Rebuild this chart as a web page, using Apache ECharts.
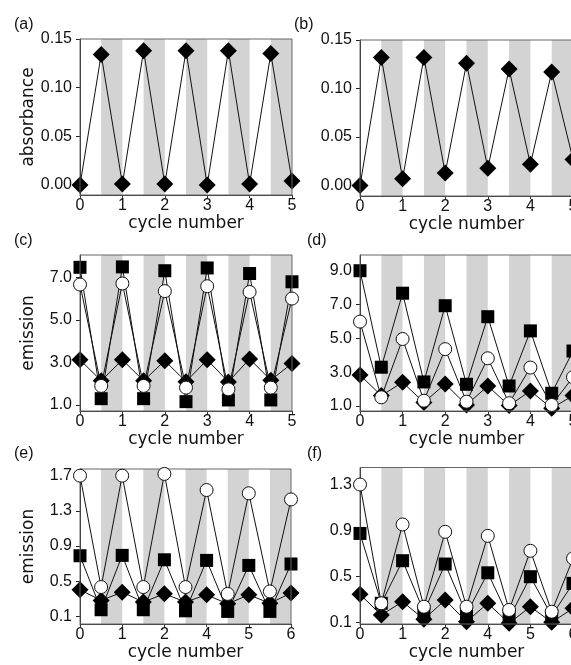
<!DOCTYPE html>
<html><head><meta charset="utf-8">
<script src="https://cdn.jsdelivr.net/npm/echarts@6/dist/echarts.min.js"></script>
<style>html,body{margin:0;padding:0;background:#fff;overflow:hidden}#c{width:571px;height:665px}</style>
</head><body><div id="c"></div>
<script>
// x positions (cycle steps) shared by all panels
const cyclePos = [0, 0.5, 1, 1.5, 2, 2.5, 3, 3.5, 4, 4.5, 5];
const xLabelsAD = ['0', '1', '2', '3', '4', '5'];
const xLabelsEF = ['0', '1', '2', '4', '5', '6'];
// shaded (dark) phases
const bandStarts = [0.5, 1.5, 2.5, 3.5, 4.5];
const bandEnds = [1, 2, 3, 4, 5];

// y tick values
const yTicksAB = [0.00, 0.05, 0.10, 0.15];
const yTicksC = [1.0, 3.0, 5.0, 7.0];
const yTicksD = [1.0, 3.0, 5.0, 7.0, 9.0];
const yTicksE = [0.1, 0.5, 0.9, 1.3, 1.7];
const yTicksF = [0.1, 0.5, 0.9, 1.3];

// panel (a)
const aDiamond = [0.000, 0.134, 0.001, 0.138, 0.001, 0.138, 0.000, 0.138, 0.001, 0.135, 0.004];
// panel (b)
const bDiamond = [0.000, 0.132, 0.007, 0.132, 0.013, 0.126, 0.018, 0.120, 0.022, 0.117, 0.027];
// panel (c)
const cSquare = [7.48, 1.30, 7.50, 1.30, 7.32, 1.16, 7.45, 1.24, 7.19, 1.24, 6.80];
const cCircle = [6.67, 1.90, 6.72, 1.90, 6.36, 1.82, 6.59, 1.74, 6.32, 1.82, 6.01];
const cDiamond = [3.13, 2.14, 3.13, 2.14, 3.09, 2.10, 3.13, 2.09, 3.17, 2.17, 2.96];
// panel (d)
const dSquare = [9.00, 3.29, 7.67, 2.42, 6.93, 2.28, 6.28, 2.18, 5.44, 1.75, 4.25];
const dCircle = [5.99, 1.51, 4.96, 1.31, 4.36, 1.25, 3.82, 1.16, 3.27, 1.06, 2.70];
const dDiamond = [2.83, 1.61, 2.40, 1.20, 2.30, 1.06, 2.18, 1.02, 1.89, 0.86, 1.61];
// panel (e)
const eSquare = [0.790, 0.176, 0.794, 0.176, 0.744, 0.164, 0.737, 0.157, 0.680, 0.157, 0.696];
const eCircle = [1.700, 0.434, 1.700, 0.434, 1.720, 0.434, 1.537, 0.356, 1.500, 0.384, 1.430];
const eDiamond = [0.403, 0.282, 0.376, 0.264, 0.357, 0.264, 0.346, 0.243, 0.346, 0.250, 0.365];
// panel (f)
const fSquare = [0.872, 0.265, 0.635, 0.192, 0.606, 0.172, 0.530, 0.135, 0.496, 0.157, 0.438];
const fCircle = [1.297, 0.265, 0.950, 0.235, 0.886, 0.235, 0.851, 0.207, 0.721, 0.192, 0.655];
const fDiamond = [0.343, 0.163, 0.279, 0.126, 0.294, 0.105, 0.265, 0.091, 0.235, 0.100, 0.221];

const panels = [
  { tag: '(a)', tagPos: [14, 17], grid: { left: 80, top: 39, width: 212, height: 156 }, y: [-0.0103, 0.15], ticks: yTicksAB, dec: 2, xl: xLabelsAD, name: 'absorbance',
    series: [['diamond', aDiamond]] },
  { tag: '(b)', tagPos: [294, 17], grid: { left: 360, top: 40, width: 213, height: 156 }, y: [-0.0107, 0.15], ticks: yTicksAB, dec: 2, xl: xLabelsAD, name: '',
    series: [['diamond', bDiamond]] },
  { tag: '(c)', tagPos: [14, 233], grid: { left: 80, top: 255, width: 212, height: 156 }, y: [0.72, 8.06], ticks: yTicksC, dec: 1, xl: xLabelsAD, name: 'emission',
    series: [['rect', cSquare], ['diamond', cDiamond], ['circle', cCircle]] },
  { tag: '(d)', tagPos: [307, 233], grid: { left: 360, top: 255, width: 213, height: 156 }, y: [0.70, 9.93], ticks: yTicksD, dec: 1, xl: xLabelsAD, name: '',
    series: [['rect', dSquare], ['diamond', dDiamond], ['circle', dCircle]] },
  { tag: '(e)', tagPos: [14, 446], grid: { left: 80, top: 469, width: 211, height: 155 }, y: [0.014, 1.776], ticks: yTicksE, dec: 1, xl: xLabelsEF, name: 'emission',
    series: [['rect', eSquare], ['diamond', eDiamond], ['circle', eCircle]] },
  { tag: '(f)', tagPos: [307, 446], grid: { left: 360, top: 467.5, width: 213, height: 156.5 }, y: [0.085, 1.445], ticks: yTicksF, dec: 1, xl: xLabelsEF, name: '',
    series: [['rect', fSquare], ['diamond', fDiamond], ['circle', fCircle]] }
];

const tickFont = { fontFamily: 'Liberation Sans, Arial, sans-serif', fontSize: 16, color: '#111' };
const nameFont = { fontFamily: 'DejaVu Sans, sans-serif', fontSize: 17, color: '#111' };

const grids = [], xAxes = [], yAxes = [], series = [], graphics = [];
panels.forEach((p, i) => {
  grids.push(Object.assign({ show: true, borderColor: '#666', borderWidth: 1, backgroundColor: 'transparent', z: 5,
    containLabel: false, outerBoundsMode: 'none' }, p.grid));
  const xl = p.xl;
  xAxes.push({
    type: 'value', gridIndex: i, min: 0, max: 5, interval: 1, position: 'bottom',
    axisLine: { show: true, onZero: false, lineStyle: { color: '#333', width: 1 } },
    axisTick: { show: true, length: 3, lineStyle: { color: '#333' } },
    splitLine: { show: false },
    axisLabel: Object.assign({ margin: 3, formatter: v => xl[Math.round(v)], showMaxLabel: true, showMinLabel: true, hideOverlap: false }, tickFont),
    name: 'cycle number', nameLocation: 'middle', nameGap: 20, nameTextStyle: nameFont
  });
  const dec = p.dec;
  yAxes.push({
    type: 'value', gridIndex: i, min: p.y[0], max: p.y[1],
    axisLine: { show: true, onZero: false, lineStyle: { color: '#222', width: 1 } },
    axisTick: { show: true, length: 4, customValues: p.ticks, lineStyle: { color: '#222' } },
    splitLine: { show: false },
    axisLabel: Object.assign({ margin: 8, customValues: p.ticks, formatter: v => Number(v).toFixed(dec) }, tickFont),
    name: p.name, nameLocation: 'middle', nameGap: 43, nameTextStyle: nameFont
  });
  // shaded bands
  series.push({
    type: 'line', xAxisIndex: i, yAxisIndex: i, data: [], z: 1, silent: true,
    markArea: {
      silent: true,
      itemStyle: { color: '#d3d3d3' },
      data: bandStarts.map((s, k) => [{ xAxis: s }, { xAxis: bandEnds[k] }])
    }
  });
  p.series.forEach(([sym, vals], k) => {
    const isCircle = sym === 'circle';
    const size = sym === 'diamond' ? 17 : 13;
    series.push({
      type: 'line', xAxisIndex: i, yAxisIndex: i, z: 3 + k,
      data: vals.map((v, j) => [cyclePos[j], v]),
      symbol: sym, symbolSize: size, showAllSymbol: true,
      lineStyle: { color: '#111', width: 1 },
      itemStyle: isCircle ? { color: '#fff', borderColor: '#111', borderWidth: 1 } : { color: '#000', borderWidth: 0 },
      animation: false
    });
  });
  graphics.push({ type: 'text', left: p.tagPos[0], top: p.tagPos[1], style: { text: p.tag, font: '16px "Liberation Sans", Arial, sans-serif', fill: '#111' } });
});

const chart = echarts.init(document.getElementById('c'), null, { renderer: 'canvas' });
chart.setOption({
  animation: false,
  backgroundColor: '#fff',
  grid: grids, xAxis: xAxes, yAxis: yAxes, series: series, graphic: graphics
});
</script>
</body></html>
